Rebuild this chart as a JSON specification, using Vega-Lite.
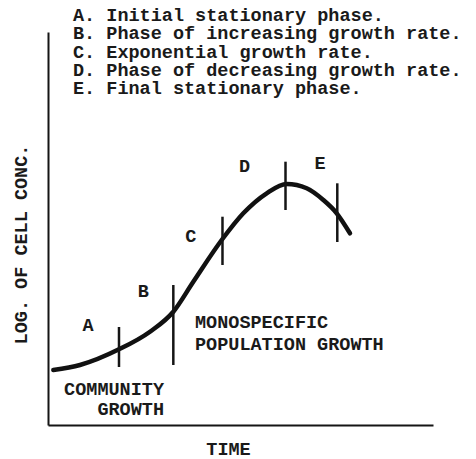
{
  "$schema": "https://vega.github.io/schema/vega-lite/v6.json",
  "width": 385,
  "height": 393,
  "autosize": {"type": "none"},
  "padding": {"left": 48, "top": 32, "right": 43, "bottom": 34},
  "background": "white",
  "config": {"view": {"stroke": null}, "font": "Liberation Mono"},
  "datasets": {
    "curve": [
      {"t": 1.38, "v": 13.99}, {"t": 8.31, "v": 15.27}, {"t": 18.44, "v": 19.26},
      {"t": 26.49, "v": 23.74}, {"t": 32.55, "v": 28.83}, {"t": 37.74, "v": 36.46},
      {"t": 45.12, "v": 47.07}, {"t": 50.73, "v": 53.87}, {"t": 56.81, "v": 58.96},
      {"t": 62.0, "v": 61.32}, {"t": 67.19, "v": 60.23}, {"t": 71.51, "v": 57.25},
      {"t": 74.99, "v": 53.87}, {"t": 78.44, "v": 48.78}
    ],
    "ticks": [
      {"t": 18.44, "v": 24.94, "v2": 14.76},
      {"t": 32.55, "v": 35.62, "v2": 15.27},
      {"t": 45.32, "v": 53.0, "v2": 40.71},
      {"t": 61.69, "v": 67.0, "v2": 54.71},
      {"t": 75.14, "v": 61.5, "v2": 46.56}
    ],
    "letters": [
      {"t": 10.39, "v": 25.45, "label": "A"},
      {"t": 24.75, "v": 34.22, "label": "B"},
      {"t": 37.06, "v": 48.14, "label": "C"},
      {"t": 51.04, "v": 65.9, "label": "D"},
      {"t": 70.65, "v": 66.67, "label": "E"}
    ],
    "notesLeft": [
      {"t": 38.18, "v": 26.28, "label": "MONOSPECIFIC"},
      {"t": 38.18, "v": 20.53, "label": "POPULATION GROWTH"}
    ],
    "notesRight": [
      {"t": 30.13, "v": 9.16, "label": "COMMUNITY"},
      {"t": 30.13, "v": 4.07, "label": "GROWTH"}
    ],
    "legend": [
      {"t": 6.49, "v": 104.33, "label": "A.  Initial stationary phase."},
      {"t": 6.49, "v": 99.67, "label": "B.  Phase of increasing growth rate."},
      {"t": 6.49, "v": 94.99, "label": "C.  Exponential growth rate."},
      {"t": 6.49, "v": 90.33, "label": "D.  Phase of decreasing growth rate."},
      {"t": 6.49, "v": 85.67, "label": "E.  Final stationary phase."}
    ]
  },
  "encoding": {
    "x": {
      "field": "t", "type": "quantitative",
      "scale": {"domain": [0, 100], "nice": false, "zero": false},
      "axis": {
        "domain": true, "domainWidth": 2, "domainColor": "#151515",
        "ticks": false, "labels": false, "grid": false,
        "title": "TIME", "titleX": 180, "titleY": 23, "titleAngle": 0,
        "titleBaseline": "middle", "titleAlign": "center",
        "titleFont": "Liberation Mono", "titleFontSize": 18.5, "titleFontWeight": "bold", "titleColor": "#1a1a1a"
      }
    },
    "y": {
      "field": "v", "type": "quantitative",
      "scale": {"domain": [0, 100], "nice": false, "zero": false},
      "axis": {
        "domain": true, "domainWidth": 2, "domainColor": "#151515",
        "ticks": false, "labels": false, "grid": false,
        "title": "LOG. OF CELL CONC.", "titleX": -28, "titleY": 212, "titleAngle": 270,
        "titleBaseline": "middle", "titleAlign": "center",
        "titleFont": "Liberation Mono", "titleFontSize": 18.5, "titleFontWeight": "bold", "titleColor": "#1a1a1a"
      }
    }
  },
  "layer": [
    {
      "data": {"name": "curve"},
      "mark": {"type": "line", "interpolate": "monotone", "color": "#111111", "strokeWidth": 4.5, "strokeCap": "round", "clip": false}
    },
    {
      "data": {"name": "ticks"},
      "mark": {"type": "rule", "color": "#151515", "strokeWidth": 2.5},
      "encoding": {"y2": {"field": "v2"}}
    },
    {
      "data": {"name": "letters"},
      "mark": {"type": "text", "font": "Liberation Mono", "fontSize": 18.5, "fontWeight": "bold", "color": "#1a1a1a", "align": "center", "baseline": "middle"},
      "encoding": {"text": {"field": "label"}}
    },
    {
      "data": {"name": "notesLeft"},
      "mark": {"type": "text", "font": "Liberation Mono", "fontSize": 18.5, "fontWeight": "bold", "color": "#1a1a1a", "align": "left", "baseline": "middle"},
      "encoding": {"text": {"field": "label"}}
    },
    {
      "data": {"name": "notesRight"},
      "mark": {"type": "text", "font": "Liberation Mono", "fontSize": 18.5, "fontWeight": "bold", "color": "#1a1a1a", "align": "right", "baseline": "middle"},
      "encoding": {"text": {"field": "label"}}
    },
    {
      "data": {"name": "legend"},
      "mark": {"type": "text", "font": "Liberation Mono", "fontSize": 18.5, "fontWeight": "bold", "color": "#1a1a1a", "align": "left", "baseline": "middle", "clip": false},
      "encoding": {"text": {"field": "label"}}
    }
  ]
}
